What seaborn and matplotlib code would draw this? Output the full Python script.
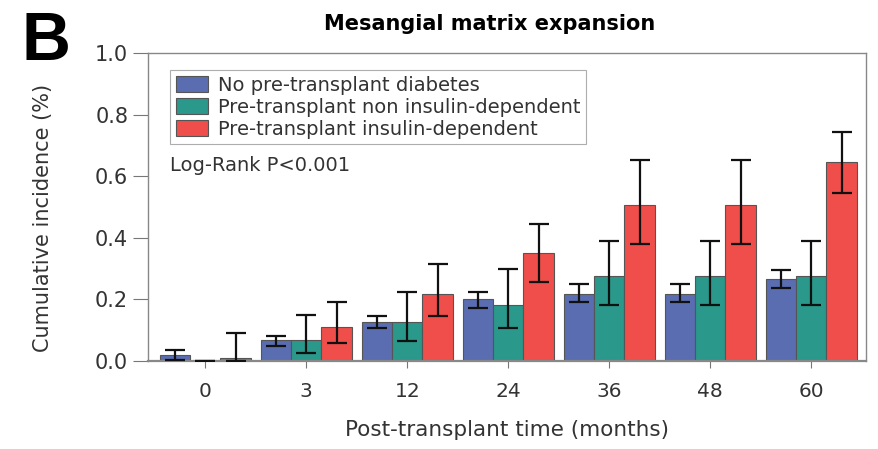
import numpy as np
import pandas as pd
import seaborn as sns
import matplotlib.pyplot as plt

# data
months = ["0", "3", "12", "24", "36", "48", "60"]
groups = ["No pre-transplant diabetes",
          "Pre-transplant non insulin-dependent",
          "Pre-transplant insulin-dependent"]

no_diab = [0.020, 0.068, 0.126, 0.200, 0.218, 0.218, 0.267]
no_diab_lo = [0.003, 0.050, 0.108, 0.171, 0.190, 0.190, 0.238]
no_diab_hi = [0.036, 0.082, 0.147, 0.225, 0.249, 0.249, 0.297]

non_ins = [0.000, 0.068, 0.126, 0.182, 0.276, 0.276, 0.276]
non_ins_lo = [0.000, 0.025, 0.066, 0.108, 0.182, 0.182, 0.182]
non_ins_hi = [0.000, 0.150, 0.225, 0.298, 0.388, 0.388, 0.388]

ins_dep = [0.009, 0.109, 0.217, 0.350, 0.505, 0.505, 0.645]
ins_dep_lo = [0.000, 0.057, 0.147, 0.256, 0.380, 0.380, 0.545]
ins_dep_hi = [0.092, 0.190, 0.314, 0.445, 0.653, 0.653, 0.743]

colors = ["#5a6db0", "#2a988a", "#ef4e4a"]

df = pd.DataFrame({
    "month": months * 3,
    "group": np.repeat(groups, len(months)),
    "value": no_diab + non_ins + ins_dep,
})
lows = [no_diab_lo, non_ins_lo, ins_dep_lo]
highs = [no_diab_hi, non_ins_hi, ins_dep_hi]
vals = [no_diab, non_ins, ins_dep]

sns.set_style("white")
plt.rcParams["font.family"] = ["DejaVu Sans"]

fig = plt.figure(figsize=(8.79, 4.49), dpi=100)
ax = fig.add_axes([0.168, 0.196, 0.817, 0.686])

sns.barplot(data=df, x="month", y="value", hue="group", order=months,
            hue_order=groups, palette=colors, width=0.9, errorbar=None,
            edgecolor="#555555", linewidth=0.8, saturation=1, ax=ax)

# asymmetric error bars centred on the seaborn bars
for cont, v, lo, hi in zip(ax.containers, vals, lows, highs):
    xs = [p.get_x() + p.get_width() / 2 for p in cont.patches]
    v = np.array(v)
    yerr = [v - np.array(lo), np.array(hi) - v]
    ax.errorbar(xs, v, yerr=yerr, fmt="none", ecolor="#111111",
                elinewidth=1.6, capsize=7, capthick=1.6, zorder=5)

ax.set_ylim(0, 1.0)
ax.set_xlim(-0.57, 6.54)
ax.set_yticks([0.0, 0.2, 0.4, 0.6, 0.8, 1.0])
ax.set_yticklabels(["0.0", "0.2", "0.4", "0.6", "0.8", "1.0"])
ax.tick_params(axis="both", direction="out", width=0.8,
               color="#777777", labelcolor="#333333")
ax.tick_params(axis="y", length=11, pad=3, labelsize=15)
ax.tick_params(axis="x", length=5, pad=10, labelsize=14.5)
ax.tick_params(left=True, bottom=True)
for s in ax.spines.values():
    s.set_color("#888888")
    s.set_linewidth(1.0)
ax.spines["bottom"].set_linewidth(1.6)

ax.set_xlabel("Post-transplant time (months)", fontsize=15.5, color="#333333",
              labelpad=14)
ax.set_ylabel("Cumulative incidence (%)", fontsize=15, color="#333333")
ax.yaxis.set_label_coords(-0.132, 0.464)
ax.set_title("Mesangial matrix expansion", fontsize=15, fontweight="bold",
             color="black", x=0.476, pad=16.5)

leg = ax.legend(loc="upper left", bbox_to_anchor=(0.031, 0.945), fontsize=14,
                frameon=True, fancybox=False, edgecolor="#999999",
                handlelength=1.65, handleheight=0.9, handletextpad=0.5,
                labelspacing=0.15, borderpad=0.3, borderaxespad=0,
                title=None)
leg.get_frame().set_linewidth(0.8)
for t in leg.get_texts():
    t.set_color("#333333")

ax.text(0.031, 0.636, "Log-Rank P<0.001", transform=ax.transAxes,
        fontsize=14, color="#333333", va="center")

fig.text(0.024, 0.978, "B", fontsize=49, fontweight="bold", va="top",
         ha="left", color="black", family="Liberation Sans")

fig.savefig("out.png", dpi=100)
